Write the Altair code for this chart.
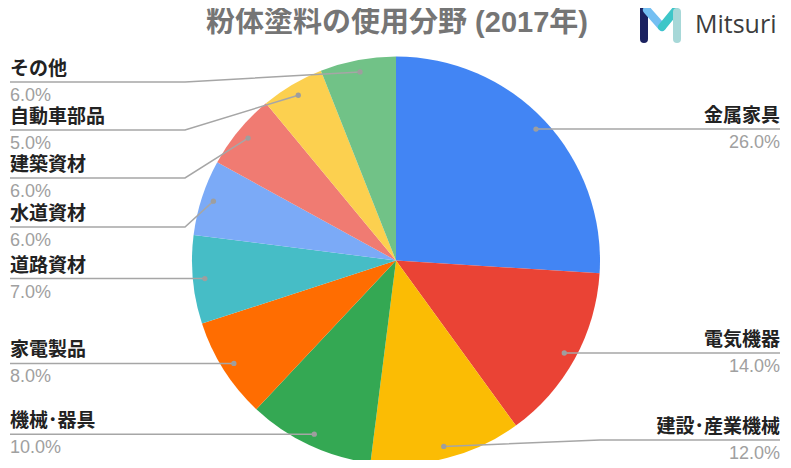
import altair as alt
import pandas as pd
import numpy as np

# ---- data ----
categories = ["金属家具", "電気機器", "建設･産業機械", "機械･器具", "家電製品",
              "道路資材", "水道資材", "建築資材", "自動車部品", "その他"]
shares = [26.0, 14.0, 12.0, 10.0, 8.0, 7.0, 6.0, 6.0, 5.0, 6.0]
colors = ["#4285F4", "#EA4335", "#FBBC04", "#34A853", "#FF6D01",
          "#46BDC6", "#7BAAF7", "#F07B72", "#FCD04F", "#71C287"]
title_text = "粉体塗料の使用分野 (2017年)"

# ---- layout (page pixel coordinates) ----
W, H = 775, 452
CX, CY, R = 396, 260.5, 204
R_DOT = 192
label_side = ["R", "R", "R", "L", "L", "L", "L", "L", "L", "L"]
label_line_y = [None, None, 440, None, None, None, 227, 178, 130, 82]
label_knee_x = [None, None, 600, None, None, None, 185, 185, 185, 185]
LEFT_X, RIGHT_X = 10, 780

pie_df = pd.DataFrame({"cat": categories, "val": shares, "idx": range(len(categories))})

cum = np.cumsum(shares)
mid = (cum - np.array(shares) / 2) / 100.0 * 2 * np.pi
dot_x = CX + R_DOT * np.sin(mid)
dot_y = CY - R_DOT * np.cos(mid)

lab_rows, line_rows, dot_rows = [], [], []
for i, c in enumerate(categories):
    ly = label_line_y[i] if label_line_y[i] is not None else dot_y[i]
    kx = label_knee_x[i] if label_knee_x[i] is not None else dot_x[i]
    side = label_side[i]
    ex = LEFT_X if side == "L" else RIGHT_X
    align = "left" if side == "L" else "right"
    lab_rows.append({"cat": c, "x": ex, "yn": ly - 13, "yp": ly + 14,
                     "pct": f"{shares[i]:.1f}%", "align": align})
    for k, (px, py) in enumerate([(dot_x[i], dot_y[i]), (kx, ly), (ex, ly)]):
        line_rows.append({"cat": c, "o": k, "x": px, "y": py})
    dot_rows.append({"cat": c, "x": dot_x[i], "y": dot_y[i]})

lab_df = pd.DataFrame(lab_rows)
line_df = pd.DataFrame(line_rows)
dot_df = pd.DataFrame(dot_rows)

xs = alt.Scale(domain=[8, 8 + W], range=[0, W])
ys = alt.Scale(domain=[8, 8 + H], range=[0, H])
X = lambda f: alt.X(f, type="quantitative", scale=xs, axis=None)
Y = lambda f: alt.Y(f, type="quantitative", scale=ys, axis=None)

pie = alt.Chart(pie_df).mark_arc(radius=R, stroke=None).encode(
    theta=alt.Theta("val:Q", stack=True),
    order=alt.Order("idx:Q"),
    color=alt.Color("cat:N", scale=alt.Scale(domain=categories, range=colors), legend=None),
    x=alt.value(CX - 8), y=alt.value(CY - 8),
)

lines = alt.Chart(line_df).mark_line(color="#a6a6a6", strokeWidth=1.5).encode(
    x=X("x"), y=Y("y"), detail="cat:N", order="o:Q")

dots = alt.Chart(dot_df).mark_circle(color="#9e9e9e", size=28, opacity=1).encode(
    x=X("x"), y=Y("y"))

left = lab_df[lab_df["align"] == "left"]
right = lab_df[lab_df["align"] == "right"]

def labels(df, align):
    n = alt.Chart(df).mark_text(align=align, baseline="middle", fontSize=19, fontWeight="bold",
                                font="Noto Sans CJK JP", color="#222222").encode(
        x=X("x"), y=Y("yn"), text="cat:N")
    p = alt.Chart(df).mark_text(align=align, baseline="middle", fontSize=18,
                                font="Liberation Sans", color="#a0a0a0").encode(
        x=X("x"), y=Y("yp"), text="pct:N")
    return n + p

title = alt.Chart(pd.DataFrame({"t": [title_text]})).mark_text(
    align="center", baseline="middle", fontSize=29, fontWeight="bold",
    font="Liberation Sans, Noto Sans CJK JP", color="#757575").encode(
    x=alt.value(397 - 8), y=alt.value(23 - 8), text="t:N")

logo_df = pd.DataFrame({
    "x": [644, 647, 662, 677], "y": [9, 10, 27, 12],
    "x2": [644, 662, 675, 677], "y2": [39, 27, 11, 39],
    "c": ["a", "b", "c", "d"],
})
logo = alt.Chart(logo_df).mark_rule(strokeWidth=8, strokeCap="round").encode(
    x=X("x"), y=Y("y"), x2="x2:Q", y2="y2:Q",
    color=alt.Color("c:N", scale=alt.Scale(domain=["a", "b", "c", "d"],
                                           range=["#1b2260", "#74bff2", "#3dc6c8", "#a7d8d8"]),
                    legend=None))
logo_text = alt.Chart(pd.DataFrame({"t": ["Mitsuri"]})).mark_text(
    align="left", baseline="middle", fontSize=25, font="Open Sans", color="#3c3c3c").encode(
    x=alt.value(695 - 8), y=alt.value(25 - 8), text="t:N")

chart = alt.layer(pie, lines, dots, labels(left, "left"), labels(right, "right"),
                  title, logo, logo_text).resolve_scale(color="independent").properties(
    width=W, height=H, padding=0, autosize="none"
).configure_view(stroke=None)

chart.save("out.html", embed_options={"renderer": "svg", "actions": False})
